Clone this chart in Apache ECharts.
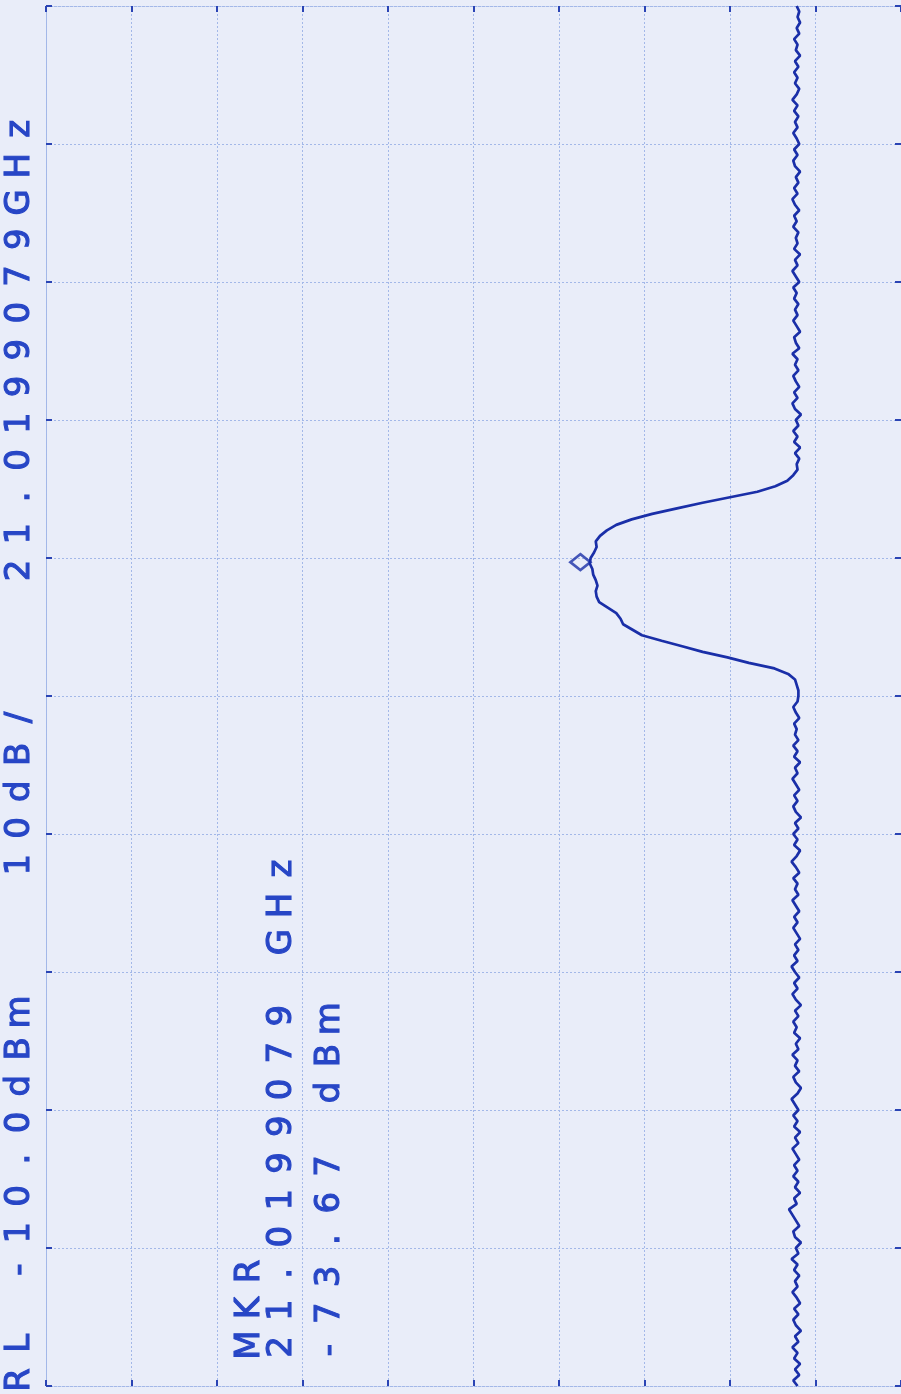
<!DOCTYPE html>
<html>
<head>
<meta charset="utf-8">
<script src="https://cdn.jsdelivr.net/npm/echarts@6/dist/echarts.min.js"></script>
<style>
html,body{margin:0;padding:0;background:#e9edf9;}
#chart{width:901px;height:1394px;}
</style>
</head>
<body>
<div id="chart"></div>
<script>
// ---- data ----
// amplitude axis (dBm): reference level -10 dBm, 10 dB/div
const ampMin = -110, ampMax = -10, ampStep = 10;
// frequency axis in screen divisions (0..10), marker sits 1 div above centre
const freqMin = 0, freqMax = 10, freqStep = 1;
// sweep sample spacing (divisions) used by the trace below
const sweepStart = 0, sweepStep = 0.04;
// trace level (dBm) per sweep sample
const noiseLow = [
 -97.9,-97.4,-98.1,-97.6,-98.2,-97.5,-97.9,-97.3,-98.0,-97.6,
 -98.3,-97.7,-97.4,-98.0,-97.5,-98.2,-97.8,-97.3,-97.9,-97.6,
 -98.1,-97.5,-97.9,-97.2,-98.0,-97.7,-98.3,-97.6,-97.4,-98.1,
 -97.7,-97.3,-96.9,-97.8,-97.5,-98.2,-97.6,-98.0,-97.4,-97.9,
 -97.5,-98.1,-97.7,-97.3,-98.0,-97.6,-98.2,-97.5,-97.9,-97.4,
 -98.0,-97.6,-97.2,-97.9,-98.3,-97.7,-97.4,-98.1,-97.6,-97.9,
 -97.3,-98.0,-97.7,-98.2,-97.5,-97.8,-97.4,-98.0,-97.6,-98.3,
 -97.7,-97.3,-97.9,-97.5,-98.1,-97.6,-97.2,-97.9,-97.5,-98.0,
 -97.6,-98.2,-97.8,-97.4,-97.9,-97.5,-98.1,-97.7,-97.3,-98.0,
 -97.6,-97.9,-97.4,-98.1,-97.7,-97.2,-97.8,-98.2,-97.5,-97.9,
 -97.4,-98.0,-97.6,-98.3,-97.7,-97.4,-97.9,-97.5,-98.1,-97.7,
 -97.3,-97.9,-97.6,-98.2,-97.5,-97.9,-97.4,-98.0,-97.6,-97.8,
 -97.5,-98.1,-97.7,-97.4,-97.9
];
const peak = [
 -98.0,-98.0,-97.8,-97.6,-96.8,-95.2,-92.2,-89.7,-86.8,-84.4,
 -82.0,-79.7,-78.6,-77.5,-77.2,-76.7,-75.7,-74.7,-74.4,-74.3,
 -74.5,-74.3,-74.0,-73.9,-73.6,-73.7,-74.1,-74.4,-74.3,-74.8,
 -75.6,-76.7,-78.5,-80.9,-83.8,-86.8,-90.0,-93.2,-95.3,-96.7,
 -97.4,-97.9,-97.8,-98.1
];
const noiseHigh = [
 -97.6,-98.2,-97.5,-97.9,-97.4,-98.0,-97.7,-98.3,-97.6,-97.3,
 -97.9,-97.5,-98.1,-97.7,-97.4,-98.0,-97.6,-97.9,-97.3,-98.1,
 -97.7,-97.5,-98.2,-97.8,-97.4,-97.9,-97.6,-98.0,-97.5,-97.8,
 -97.4,-98.1,-97.7,-97.3,-97.9,-97.6,-98.2,-97.5,-97.9,-97.7,
 -98.0,-97.4,-97.8,-97.5,-98.1,-97.6,-97.3,-97.9,-97.5,-98.0,
 -97.7,-98.2,-97.6,-97.4,-97.9,-97.5,-98.1,-97.8,-97.4,-97.9,
 -97.6,-98.0,-97.5,-97.9,-97.3,-97.8,-98.1,-97.6,-97.9,-97.5,
 -98.0,-97.6,-98.2,-97.7,-97.9,-97.5,-98.1,-97.8,-98.2,-97.9,
 -98.1,-97.8
];
// marker
const markerLevel = -73.67;
const markerFreq = 5.97;
// annotation text lines
const headerText = "RL -10.0dBm   10dB/   21.0199079GHz";
const markerLines = ["MKR", "21.0199079 GHz", "-73.67 dBm"];

// ---- build ----
const level = noiseLow.concat(peak, noiseHigh);
const trace = level.map((v, i) => [v, +(sweepStart + i * sweepStep).toFixed(3)]);

const GRID_COLOR = '#a3b8e8';
const TICK_COLOR = '#2a44b4';
const TRACE_COLOR = '#1a2fa8';
const TEXT_COLOR = '#2746c6';
const PITCH = 36.8;

function textLine(str, cx, y0) {
  return {
    type: 'group', x: cx, y: y0, rotation: Math.PI / 2, silent: true,
    children: str.split('').map((ch, i) => ({
      type: 'text', x: i * PITCH, y: 0,
      style: {
        text: ch, fill: TEXT_COLOR, stroke: TEXT_COLOR, lineWidth: 1.1,
        fontSize: 34, fontFamily: 'DejaVu Sans',
        align: 'center', verticalAlign: 'middle',
        textAlign: 'center', textVerticalAlign: 'middle'
      }
    }))
  };
}

const gridLine = { color: GRID_COLOR, width: 1, type: [2, 2] };
function axisCommon(extra) {
  return Object.assign({
    type: 'value',
    axisLine: { show: true, onZero: false, lineStyle: gridLine },
    axisTick: { show: true, inside: true, length: 6, lineStyle: { color: TICK_COLOR, width: 2 } },
    axisLabel: { show: false },
    splitLine: { show: false }
  }, extra);
}

const chart = echarts.init(document.getElementById('chart'), null, { renderer: 'canvas' });
chart.setOption({
  backgroundColor: '#e9edf9',
  animation: false,
  grid: { left: 46, top: 6, width: 856, height: 1380, containLabel: false },
  xAxis: [
    axisCommon({ min: ampMin, max: ampMax, interval: ampStep, inverse: true, position: 'bottom',
      splitLine: { show: true, lineStyle: gridLine } }),
    axisCommon({ min: ampMin, max: ampMax, interval: ampStep, inverse: true, position: 'top' })
  ],
  yAxis: [
    axisCommon({ min: freqMin, max: freqMax, interval: freqStep, position: 'left',
      splitLine: { show: true, lineStyle: gridLine } }),
    axisCommon({ min: freqMin, max: freqMax, interval: freqStep, position: 'right' })
  ],
  series: [
    {
      type: 'line', xAxisIndex: 0, yAxisIndex: 0,
      data: trace, showSymbol: false, symbol: 'none',
      lineStyle: { color: TRACE_COLOR, width: 2.7 },
      z: 5
    },
    {
      type: 'scatter', xAxisIndex: 0, yAxisIndex: 0,
      data: [[markerLevel, markerFreq]],
      symbol: 'diamond', symbolSize: [20, 16], symbolOffset: [-10, 0],
      itemStyle: { color: 'rgba(0,0,0,0)', borderColor: TRACE_COLOR, borderWidth: 2.7 },
      z: 6
    }
  ],
  graphic: [
    textLine(headerText, 20, 1380),
    textLine(markerLines[0], 250, 1345),
    textLine(markerLines[1], 282, 1347),
    textLine(markerLines[2], 330, 1350)
  ]
});
</script>
</body>
</html>
